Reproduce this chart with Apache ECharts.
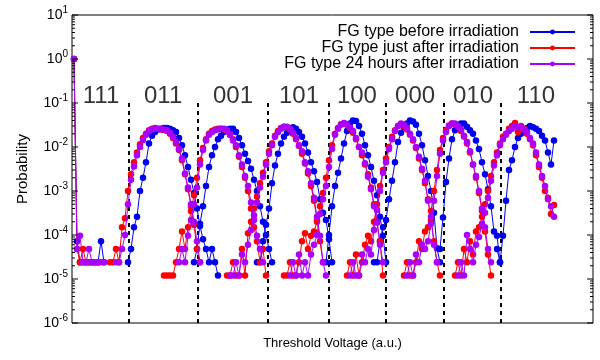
<!DOCTYPE html>
<html><head><meta charset="utf-8">
<script src="https://cdn.jsdelivr.net/npm/echarts@6/dist/echarts.min.js"></script>
<style>html,body{margin:0;padding:0;background:#fff}#c{width:600px;height:360px}</style>
</head><body><div id="c"></div>
<script>
// ---------- data (voltage steps are in a.u.) ----------
const seriesNames = ['FG type before irradiation', 'FG type just after irradiation', 'FG type 24 hours after irradiation'];
const stateLabels = ['111', '011', '001', '101', '100', '000', '010', '110'];
const stateLabelVoltages = [9, 29.7, 53, 75, 94.3, 113.7, 133, 154];
const readVoltages = [18.1, 41.2, 64.5, 85, 103.9, 123.1, 142.3];
const yTickExponents = [-6, -5, -4, -3, -2, -1, 0, 1];

// first voltage step of every state distribution
const beforeStart = [0, 18, 40, 61, 84, 100, 122, 141];
const beforeProb = [
  [1.0, 7.2e-5, 2.4e-5, 2.4e-5, 2.4e-5, 2.4e-5, 2.4e-5, 2.4e-5, 2.4e-5, 7.2e-5, 2.4e-5],
  [2.4e-5, 4.8e-5, 1.5e-4, 2.6e-4, 1.0e-3, 2.0e-3, 4.5e-3, 1.2e-2, 1.8e-2, 2.2e-2, 2.5e-2, 2.6e-2, 2.7e-2, 2.7e-2, 2.6e-2, 2.4e-2, 2.2e-2, 1.6e-2, 1.1e-2, 6.5e-3, 3.5e-3, 1.8e-3, 9.0e-4, 4.0e-4, 1.6e-4, 8.0e-5, 4.8e-5, 2.4e-5, 4.8e-5, 2.4e-5, 1.2e-5],
  [2.4e-5, 4.8e-5, 1.8e-4, 4.5e-4, 1.3e-3, 3.5e-3, 6.5e-3, 1.0e-2, 1.5e-2, 1.8e-2, 2.2e-2, 2.5e-2, 2.6e-2, 2.6e-2, 2.2e-2, 1.6e-2, 1.1e-2, 7.0e-3, 4.8e-3, 3.2e-3, 1.8e-3, 1.0e-3, 4.5e-4, 2.0e-4, 1.0e-4, 4.8e-5, 2.4e-5],
  [2.4e-5, 2.4e-5, 7.2e-5, 1.7e-4, 4.0e-4, 1.5e-3, 3.8e-3, 7.0e-3, 1.2e-2, 1.7e-2, 2.1e-2, 2.6e-2, 2.8e-2, 2.6e-2, 2.2e-2, 1.7e-2, 1.2e-2, 7.5e-3, 4.5e-3, 2.8e-3, 1.6e-3, 6.5e-4, 3.2e-4, 2.2e-4, 8.0e-5, 2.4e-5],
  [2.4e-5, 1.0e-4, 4.5e-4, 1.3e-3, 2.6e-3, 5.5e-3, 1.2e-2, 2.3e-2, 3.4e-2, 4.0e-2, 3.9e-2, 3.0e-2, 2.0e-2, 1.1e-2, 6.5e-3, 3.5e-3, 1.7e-3, 8.0e-4, 2.6e-4, 9.6e-5, 2.4e-5],
  [2.4e-5, 2.4e-5, 7.2e-5, 1.5e-4, 2.2e-4, 6.5e-4, 1.7e-3, 4.5e-3, 1.3e-2, 2.1e-2, 2.8e-2, 3.4e-2, 4.0e-2, 3.8e-2, 3.2e-2, 2.0e-2, 1.1e-2, 5.0e-3, 2.2e-3, 1.0e-3, 3.2e-4, 5.0e-5, 2.4e-5],
  [4.8e-5, 2.5e-4, 1.6e-3, 5.5e-3, 1.5e-2, 2.4e-2, 3.0e-2, 3.4e-2, 3.4e-2, 2.9e-2, 2.4e-2, 2.0e-2, 1.4e-2, 9.0e-3, 4.5e-3, 2.4e-3, 1.1e-3, 4.5e-4, 1.2e-4, 9.6e-5, 2.4e-5],
  [4.8e-5, 2.4e-5, 9.6e-5, 6.0e-4, 3.0e-3, 5.0e-3, 1.0e-2, 1.6e-2, 2.0e-2, 2.4e-2, 2.7e-2, 3.0e-2, 2.8e-2, 2.6e-2, 2.3e-2, 1.8e-2, 1.4e-2, 7.5e-3, 4.0e-3, 1.4e-2]
];

const justAfterStart = [0, 12, 30, 51, 70, 91, 110, 127];
const justAfterProb = [
  [1.0, 4.8e-5, 2.4e-5, 4.8e-5, 2.4e-5, 2.4e-5, 2.4e-5, 2.4e-5, 2.4e-5],
  [2.4e-5, 2.4e-5, 4.8e-5, 2.4e-5, 1.5e-4, 2.4e-4, 1.0e-3, 2.4e-3, 4.5e-3, 7.5e-3, 1.15e-2, 1.6e-2, 2.0e-2, 2.4e-2, 2.6e-2, 2.7e-2, 2.6e-2, 2.5e-2, 2.45e-2, 2.3e-2, 2.0e-2, 1.6e-2, 1.2e-2, 8.5e-3, 5.0e-3, 2.4e-3, 1.1e-3, 4.5e-4, 1.7e-4, 4.8e-5, 2.4e-5],
  [1.2e-5, 1.2e-5, 1.2e-5, 1.2e-5, 2.4e-5, 4.8e-5, 1.2e-4, 4.8e-5, 1.5e-4, 3.5e-4, 8.0e-4, 2.0e-3, 5.0e-3, 9.5e-3, 1.5e-2, 2.0e-2, 2.3e-2, 2.5e-2, 2.6e-2, 2.6e-2, 2.5e-2, 2.3e-2, 1.9e-2, 1.5e-2, 1.0e-2, 6.0e-3, 3.5e-3, 2.0e-3, 1.0e-3, 4.0e-4, 1.5e-4, 7.2e-5, 2.4e-5, 4.8e-5, 1.2e-5],
  [1.2e-5, 1.2e-5, 2.4e-5, 1.2e-5, 1.2e-5, 4.8e-5, 1.2e-5, 1.1e-4, 2.0e-4, 4.0e-4, 7.5e-4, 1.5e-3, 2.6e-3, 4.5e-3, 8.0e-3, 1.2e-2, 1.8e-2, 2.3e-2, 2.7e-2, 2.9e-2, 2.8e-2, 2.5e-2, 2.0e-2, 1.5e-2, 1.05e-2, 7.0e-3, 4.2e-3, 2.5e-3, 1.3e-3, 6.0e-4, 2.2e-4, 7.2e-5, 2.4e-5],
  [1.2e-5, 1.2e-5, 2.4e-5, 1.2e-5, 1.2e-5, 2.4e-5, 7.2e-5, 1.1e-4, 4.8e-5, 9.6e-5, 1.2e-4, 2.0e-4, 4.5e-4, 9.0e-4, 2.0e-3, 5.0e-3, 1.1e-2, 2.0e-2, 2.7e-2, 3.3e-2, 3.4e-2, 3.2e-2, 2.7e-2, 2.1e-2, 1.5e-2, 1.0e-2, 6.5e-3, 4.0e-3, 2.4e-3, 1.2e-3, 5.0e-4, 2.0e-4, 7.2e-5, 1.2e-5],
  [1.2e-5, 2.4e-5, 1.2e-5, 3.6e-5, 1.2e-5, 2.4e-5, 6.0e-5, 9.6e-5, 7.2e-5, 2.0e-4, 5.0e-4, 1.3e-3, 3.0e-3, 5.5e-3, 1.0e-2, 1.7e-2, 2.4e-2, 3.0e-2, 3.2e-2, 3.0e-2, 2.5e-2, 1.9e-2, 1.4e-2, 9.5e-3, 5.5e-3, 3.0e-3, 1.5e-3, 6.5e-4, 2.2e-4, 7.2e-5, 2.4e-5, 1.2e-5],
  [1.2e-5, 2.4e-5, 1.2e-5, 1.2e-5, 2.4e-5, 7.2e-5, 4.8e-5, 1.2e-4, 1.5e-4, 3.5e-4, 1.0e-3, 3.0e-3, 8.5e-3, 1.6e-2, 2.4e-2, 3.1e-2, 3.4e-2, 3.3e-2, 2.9e-2, 2.3e-2, 1.7e-2, 1.2e-2, 7.5e-3, 4.0e-3, 2.0e-3, 9.0e-4, 3.5e-4, 1.2e-4, 3.6e-5, 1.2e-5],
  [1.2e-5, 2.4e-5, 1.2e-5, 4.8e-5, 2.4e-5, 7.2e-5, 3.6e-5, 1.2e-4, 1.5e-4, 2.6e-4, 5.0e-4, 1.0e-3, 2.2e-3, 4.5e-3, 7.5e-3, 1.2e-2, 1.7e-2, 2.0e-2, 2.6e-2, 3.0e-2, 3.5e-2, 2.2e-2, 3.0e-2, 2.6e-2, 2.0e-2, 1.5e-2, 1.1e-2, 6.5e-3, 3.5e-3, 2.0e-3, 1.0e-3, 7.0e-4, 3.0e-4, 4.8e-4]
];

const after24hStart = [0, 14, 35, 52, 72, 92, 111, 128];
const after24hProb = [
  [1.0, 4.8e-5, 9.6e-5, 2.4e-5, 2.4e-5, 4.8e-5, 2.4e-5, 2.4e-5, 2.4e-5, 2.4e-5, 2.4e-5],
  [2.4e-5, 2.4e-5, 4.8e-5, 1.0e-4, 5.0e-4, 1.8e-3, 3.6e-3, 6.5e-3, 1.0e-2, 1.45e-2, 1.9e-2, 2.3e-2, 2.5e-2, 2.6e-2, 2.6e-2, 2.55e-2, 2.5e-2, 2.4e-2, 2.1e-2, 1.7e-2, 1.3e-2, 9.0e-3, 5.5e-3, 2.5e-3, 1.2e-3, 5.0e-4, 2.0e-4, 7.2e-5, 2.4e-5],
  [2.4e-5, 4.8e-5, 2.4e-5, 9.6e-5, 2.2e-4, 5.0e-4, 1.2e-3, 4.0e-3, 8.5e-3, 1.4e-2, 1.9e-2, 2.2e-2, 2.4e-2, 2.5e-2, 2.6e-2, 2.6e-2, 2.4e-2, 1.9e-2, 1.4e-2, 1.1e-2, 6.5e-3, 4.0e-3, 2.2e-3, 1.3e-3, 5.5e-4, 2.2e-4, 9.6e-5, 4.8e-5, 2.4e-5],
  [1.2e-5, 1.2e-5, 2.4e-5, 1.2e-5, 3.6e-5, 2.4e-5, 6.0e-5, 1.3e-4, 2.8e-4, 5.5e-4, 1.2e-3, 2.1e-3, 4.0e-3, 7.0e-3, 1.1e-2, 1.7e-2, 2.2e-2, 2.6e-2, 2.9e-2, 2.9e-2, 2.6e-2, 2.1e-2, 1.6e-2, 1.1e-2, 8.0e-3, 4.5e-3, 2.8e-3, 1.5e-3, 7.0e-4, 2.6e-4, 9.6e-5, 2.4e-5, 1.2e-5],
  [1.2e-5, 2.4e-5, 1.2e-5, 3.6e-5, 1.2e-5, 2.4e-5, 1.2e-5, 3.6e-5, 6.0e-5, 1.0e-4, 3.0e-4, 6.5e-4, 1.3e-3, 3.5e-3, 9.0e-3, 1.9e-2, 2.6e-2, 3.2e-2, 3.5e-2, 3.3e-2, 2.8e-2, 2.3e-2, 1.6e-2, 1.0e-2, 7.5e-3, 4.3e-3, 2.1e-3, 1.1e-3, 4.5e-4, 1.9e-4, 6.0e-5, 2.4e-5],
  [1.2e-5, 2.4e-5, 1.2e-5, 1.2e-5, 3.6e-5, 2.4e-5, 4.8e-5, 3.6e-5, 1.3e-4, 3.7e-4, 1.0e-3, 2.6e-3, 4.5e-3, 9.0e-3, 1.5e-2, 2.3e-2, 3.0e-2, 3.4e-2, 3.2e-2, 2.7e-2, 2.0e-2, 1.5e-2, 1.0e-2, 6.0e-3, 3.2e-3, 1.7e-3, 6.0e-4, 2.6e-4, 6.0e-5, 2.4e-5],
  [1.2e-5, 2.4e-5, 1.2e-5, 3.6e-5, 2.4e-5, 6.0e-5, 4.8e-5, 7.2e-5, 1.8e-4, 6.0e-4, 2.2e-3, 7.0e-3, 1.4e-2, 2.2e-2, 3.0e-2, 3.4e-2, 3.4e-2, 3.0e-2, 2.5e-2, 1.8e-2, 1.3e-2, 8.0e-3, 4.0e-3, 2.2e-3, 1.0e-3, 4.0e-4, 1.5e-4, 4.8e-5, 2.4e-5],
  [1.2e-5, 2.4e-5, 1.2e-5, 1.0e-4, 4.8e-5, 2.4e-5, 6.0e-5, 9.0e-5, 1.8e-4, 3.2e-4, 7.0e-4, 1.7e-3, 3.8e-3, 6.5e-3, 1.1e-2, 1.5e-2, 1.9e-2, 2.3e-2, 2.6e-2, 3.0e-2, 2.8e-2, 2.8e-2, 2.5e-2, 2.2e-2, 1.6e-2, 1.2e-2, 7.5e-3, 4.0e-3, 2.2e-3, 1.3e-3, 6.5e-4, 4.5e-4, 2.6e-4]
];

// ---------- build ----------
const X_MIN = -2 / 3, X_MAX = 173, Y_MIN = 1e-6, Y_MAX = 10;
const COLORS = ['#0000ee', '#ff0000', '#aa00ff'];
const FONT = 'Liberation Sans';

function buildLine(starts, probs) {
  const out = [];
  probs.forEach((arr, k) => {
    arr.forEach((p, j) => out.push([starts[k] + j, p]));
    out.push(['-', '-']);
  });
  return out;
}
const lineData = [buildLine(beforeStart, beforeProb), buildLine(justAfterStart, justAfterProb), buildLine(after24hStart, after24hProb)];

// log-axis tick marks (major at powers of ten, minor at 2..9)
const tickData = [];
yTickExponents.forEach(e => {
  tickData.push([X_MIN, Math.pow(10, e), 1]);
  if (e < 1) for (let m = 2; m <= 9; m++) tickData.push([X_MIN, m * Math.pow(10, e), 0]);
});

const chart = echarts.init(document.getElementById('c'), null, { renderer: 'canvas' });
const series = lineData.map((d, i) => ({
  name: seriesNames[i], type: 'line', data: d, z: 10 + i,
  symbol: 'circle', symbolSize: 6.5, showAllSymbol: true, connectNulls: false,
  lineStyle: { width: 1, color: COLORS[i] }, itemStyle: { color: COLORS[i] },
  emphasis: { disabled: true }, animation: false
}));
series.push({
  name: 'bounds', type: 'line', data: [], z: 1, animation: false,
  markLine: {
    silent: true, symbol: ['none', 'none'], label: { show: false }, animation: false,
    lineStyle: { color: '#000', type: [4, 4], width: 2 },
    emphasis: { disabled: true },
    data: readVoltages.map(v => [{ coord: [v, 0.1] }, { coord: [v, Y_MIN] }])
  }
});
series.push({
  name: 'states', type: 'scatter', symbolSize: 0, z: 12, silent: true, animation: false,
  data: stateLabels.map((s, i) => ({ name: s, value: [stateLabelVoltages[i], 0.14] })),
  label: { show: true, position: 'inside', formatter: '{b}', fontSize: 24, color: '#000', fontFamily: FONT }
});
series.push({
  name: 'ticks', type: 'custom', z: 20, silent: true, animation: false, data: tickData,
  renderItem: (params, api) => {
    const v = api.value(1), major = api.value(2);
    const pL = api.coord([X_MIN, v]), pR = api.coord([X_MAX, v]);
    const len = major ? 6 : 3;
    return { type: 'group', children: [
      { type: 'line', shape: { x1: pL[0], y1: pL[1], x2: pL[0] + len, y2: pL[1] }, style: { stroke: '#000', lineWidth: 1 } },
      { type: 'line', shape: { x1: pR[0], y1: pR[1], x2: pR[0] - len, y2: pR[1] }, style: { stroke: '#000', lineWidth: 1 } }
    ] };
  }
});

chart.setOption({
  animation: false,
  backgroundColor: '#fff',
  textStyle: { fontFamily: FONT },
  grid: { left: 72, right: 7, top: 15, bottom: 37, show: true, borderColor: '#000', borderWidth: 1, backgroundColor: 'transparent' },
  legend: {
    data: seriesNames, orient: 'vertical', align: 'right', right: 24, top: 24, padding: 0,
    itemWidth: 45, itemHeight: 6, itemGap: 0,
    textStyle: { fontSize: 16, color: '#000', fontFamily: FONT, lineHeight: 16, padding: [0, 6, 0, 0] }
  },
  xAxis: {
    type: 'value', min: X_MIN, max: X_MAX,
    axisLine: { show: false }, axisTick: { show: false }, axisLabel: { show: false }, splitLine: { show: false },
    name: 'Threshold Voltage (a.u.)', nameLocation: 'middle', nameGap: 14,
    nameTextStyle: { fontSize: 13, color: '#000', fontFamily: FONT }
  },
  yAxis: {
    type: 'log', logBase: 10, min: Y_MIN, max: Y_MAX,
    axisLine: { show: false }, axisTick: { show: false }, splitLine: { show: false }, minorTick: { show: false },
    axisLabel: {
      margin: 4,
      formatter: v => '{b|10}{s|' + Math.round(Math.log10(v)) + '}',
      rich: {
        b: { fontSize: 14, lineHeight: 20, color: '#000', fontFamily: FONT },
        s: { fontSize: 10, lineHeight: 10, verticalAlign: 'top', color: '#000', fontFamily: FONT }
      }
    },
    name: 'Probability', nameLocation: 'middle', nameGap: 42, nameRotate: 90,
    nameTextStyle: { fontSize: 15, color: '#000', fontFamily: FONT }
  },
  series: series
});
</script>
</body></html>
